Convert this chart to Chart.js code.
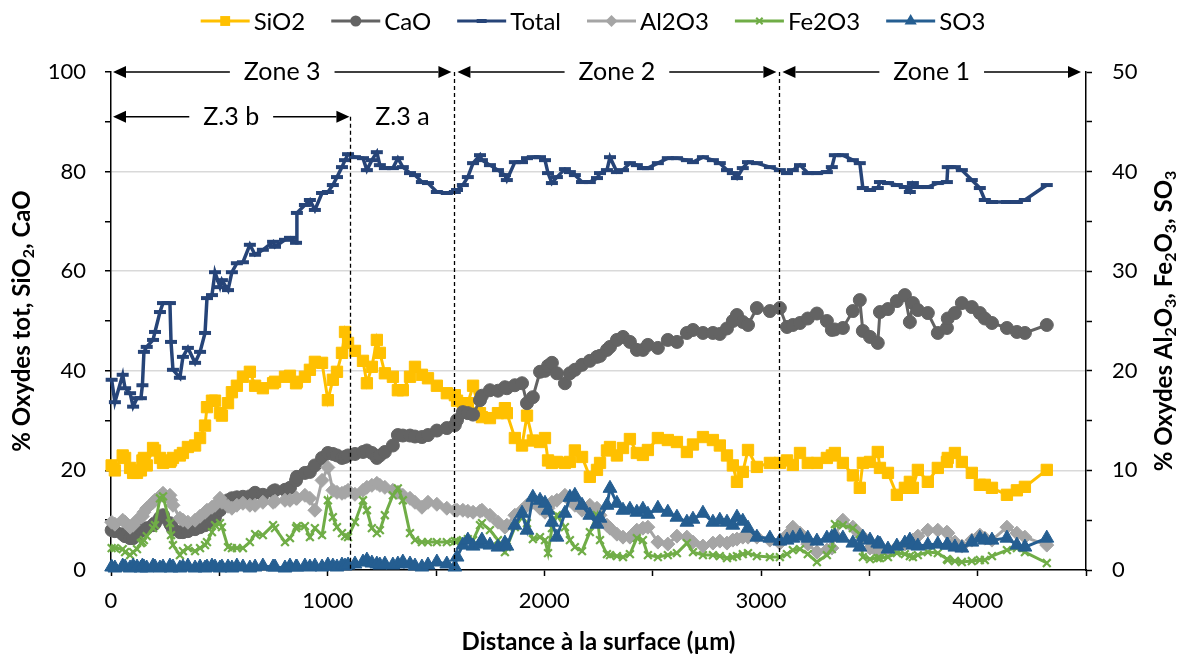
<!DOCTYPE html>
<html>
<head>
<meta charset="utf-8">
<script src="https://cdn.jsdelivr.net/npm/chart.js@4.4.1/dist/chart.umd.min.js"></script>
<style>
  html, body { margin: 0; padding: 0; background: #fff; }
</style>
</head>
<body>
<canvas id="oxChart" width="1186" height="662"></canvas>
<script>
// Distance to surface (µm), shared by all series
const distance = [
  3, 18, 54, 65, 88, 102, 120, 138, 145, 152,
  165, 194, 203, 226, 240, 272, 277, 286, 318, 332,
  355, 388, 411, 434, 443, 466, 480, 503, 512, 540,
  558, 581, 609, 641, 665, 701, 748, 757, 803, 826,
  854, 858, 895, 918, 941, 974, 1001, 1024, 1043, 1066,
  1080, 1094, 1126, 1163, 1181, 1204, 1227, 1241, 1264, 1301,
  1324, 1347, 1380, 1403, 1435, 1463, 1504, 1550, 1587, 1597,
  1624, 1647, 1671, 1703, 1712, 1749, 1786, 1818, 1827, 1864,
  1897, 1920, 1947, 1980, 2003, 2017, 2035, 2058, 2095, 2118,
  2141, 2174, 2210, 2243, 2257, 2289, 2303, 2335, 2363, 2395,
  2427, 2455, 2478, 2524, 2570, 2612, 2658, 2686, 2732, 2778,
  2810, 2843, 2870, 2889, 2916, 2940, 2981, 3041, 3087, 3120,
  3147, 3180, 3216, 3258, 3304, 3327, 3341, 3378, 3424, 3456,
  3470, 3503, 3539, 3549, 3586, 3627, 3664, 3687, 3701, 3724,
  3770, 3816, 3858, 3862, 3895, 3927, 3973, 4010, 4033, 4066,
  4135, 4181, 4218, 4319
];

// left axis (%)
const sio2 = [
  21, 20, 23, 22.5, 20.5, 19.5, 19.5, 20, 22, 22.5,
  21, 24.5, 24, 22.5, 21.5, 21.7, 22, 22.5, 23, 23.5,
  24.7, 25, 26.5, 29, 32.7, 34, 34, 31.5, 31, 33.5,
  35.7, 37, 38.8, 39.8, 37, 36.5, 37.5, 37.8, 38.8, 39,
  37.5, 37.8, 38.8, 40.2, 41.8, 41.6, 34.1, 38.2, 39.8, 43.6,
  47.8, 45.6, 44, 42, 37.5, 40.8, 46.2, 43.6, 39.5, 38.8,
  36.1, 36.1, 38.8, 40.8, 39.2, 38.5, 37, 35.5, 35.1, 34,
  33.5, 33.5, 37, 31.5, 30.7, 30.5, 31.5, 32.5, 31.5, 26.5,
  25, 31, 26, 25.7, 26.5, 22, 21.5, 21.7, 21.5, 21.7,
  24, 22.7, 18.7, 20.1, 21.5, 24, 24.7, 23, 24.5, 26.3,
  23.5, 23.1, 24.1, 26.5, 26.1, 25.7, 23.7, 25.2, 26.7, 26.1,
  25, 23, 21, 17.7, 19.7, 24.1, 20.7, 21.5, 21.5, 22,
  21.1, 23.5, 21.5, 21.5, 22.5, 23, 23.5, 21.5, 19, 16.5,
  21.5, 21.7, 23.7, 20.5, 19.5, 15.1, 16.5, 17.7, 16.5, 20.1,
  17.7, 20.5, 21.7, 22.5, 23.5, 21.7, 19.5, 17.1, 17.1, 16.5,
  15.1, 16, 16.7, 20.1
];
const cao = [
  8, 7.8, 7.2, 6.8, 6.4, 6.4, 7, 8, 8, 8.2,
  8.4, 9, 9.4, 10.5, 11, 9.4, 9, 8.2, 7.6, 7.6,
  7.8, 8.2, 8.6, 9, 9.2, 10, 10.6, 12, 12.8, 14,
  14.4, 14.6, 14.7, 14.8, 15.5, 15.1, 15.8, 16, 16.1, 16.5,
  18, 18.7, 19.5, 19.7, 21, 22.5, 23.5, 23.3, 23, 22.5,
  22.7, 23, 23.3, 23.7, 24, 23.5, 22.5, 23, 23.7, 25,
  27.1, 27, 27, 26.8, 26.7, 27.1, 28, 28.5, 29.1, 30.1,
  31.7, 31.5, 31.2, 34.1, 35, 36.1, 36, 36.7, 36.5, 37.1,
  37.5, 33.5, 34.7, 39.8, 40, 41, 41.6, 39.5, 37.5, 39.5,
  40.2, 41.2, 42, 42.8, 43, 44.2, 44.8, 46.2, 46.8, 45.8,
  44.2, 44.2, 45.2, 44.6, 46.2, 45.8, 47.6, 48.2, 47.6, 47.6,
  47.4, 48.5, 50, 51.2, 49.8, 49.2, 52.6, 52, 52.6, 48.8,
  49.2, 49.6, 50.5, 51.5, 50, 48.2, 48.3, 48.6, 52, 54.2,
  48, 46.8, 45.6, 51.8, 52.4, 54, 55.2, 49.8, 53.6, 52.2,
  51.6, 47.6, 48.6, 50.5, 51.6, 53.6, 52.8, 51.6, 50.5, 49.6,
  48.6, 47.8, 47.6, 49.2
];
const total = [
  38.2, 33.7, 39.2, 36.5, 35.5, 32.8, 34.5, 34.5, 37.1, 43.8,
  44.8, 46.2, 47.8, 51.8, 53.6, 53.6, 45.8, 40.2, 38.6, 42.8,
  44.6, 41.6, 43.8, 47.6, 54.6, 55.2, 59.8, 56.8, 58.2, 56.2,
  59.8, 61.6, 61.8, 65.3, 63.3, 64.3, 65.9, 64.9, 66.3, 66.7,
  65.7, 71.7, 73.3, 74.3, 72.3, 75.7, 75.9, 77.3, 78.9, 80.9,
  82.3, 83.5, 82.9, 82.7, 80.3, 82.3, 83.9, 81.3, 80.7, 80.7,
  82.7, 80.9, 79.7, 79.3, 77.9, 77.7, 75.9, 75.7, 75.9, 76.3,
  77.3, 78.9, 81.7, 83.3, 82.3, 81.3, 80.3, 79.3, 78.3, 81.9,
  81.9, 82.7, 82.9, 82.9, 82.3, 79.7, 77.7, 78.9, 80.5, 79.9,
  79.3, 77.9, 77.9, 78.7, 79.7, 80.3, 82.9, 79.9, 80.3, 81.7,
  81.3, 80.7, 80.7, 81.7, 82.7, 82.7, 82.3, 81.9, 82.9, 82.3,
  81.7, 80.3, 79.7, 78.7, 80.7, 81.9, 81.7, 80.9, 80.3, 79.7,
  80.3, 81.3, 79.7, 79.7, 79.9, 80.9, 83.3, 83.3, 82.3, 81.7,
  76.7, 76.3, 76.7, 77.9, 77.7, 77.3, 76.9, 75.9, 77.7, 76.9,
  76.9, 77.7, 77.9, 80.9, 80.9, 80.3, 78.3, 76.7, 74.3, 73.9,
  73.9, 73.9, 74.3, 77.3
];

// right axis (%)
const al2o3 = [
  4.8, 4.6, 5, 4.8, 4.3, 4.5, 5, 5.3, 5.4, 5.8,
  6.2, 6.8, 7, 7.4, 7.7, 7.5, 7, 6.5, 5.2, 5,
  4.8, 5, 5.4, 5.8, 6, 6.3, 6.5, 7.2, 6.8, 6.4,
  6.2, 6.5, 6.7, 6.5, 6.5, 6.8, 6.8, 6.9, 7, 7,
  7.2, 7.2, 7.5, 7.2, 6, 9, 10.3, 8, 7.8, 7.7,
  7.8, 8, 7.6, 8, 8.3, 8.5, 8.7, 8.5, 8.3, 8,
  7.8, 7.5, 7.2, 6.8, 6.3, 6.8, 6.6, 6.2, 6, 6,
  6, 5.9, 5.8, 5.9, 6, 5.5, 4.8, 4.3, 4.5, 5.5,
  6, 6.5, 6.8, 6.2, 5.8, 6.2, 6.8, 7, 7.5, 7,
  6.5, 6, 6.5, 6.2, 5.5, 4.5, 4.2, 3.6, 3.3, 3.3,
  4, 4.2, 4.3, 2.8, 2.6, 3.4, 3.3, 2.8, 2.4, 2.7,
  2.9, 2.7, 3, 3.1, 3.3, 3.3, 3.3, 3, 2.7, 3.5,
  4.3, 3.7, 2.6, 1.8, 2, 2.2, 3.5, 5, 4.3, 3.6,
  3.3, 2.2, 1.8, 1.8, 2, 2.3, 2.6, 2.9, 3, 3.4,
  4, 4, 3.8, 3.7, 2.8, 2.4, 3, 3.5, 3.2, 3,
  4.3, 3.7, 3.3, 2.5
];
const fe2o3 = [
  2.2, 2.2, 2.1, 1.8, 1.5, 1.8, 2.1, 2.7, 2.8, 3,
  3.4, 4.2, 4.5, 7.2, 7.4, 4.7, 3.5, 2.5, 1.5, 1.9,
  2.2, 1.9, 2.2, 2.5, 2.8, 3.8, 4.5, 4.7, 4.3, 2.3,
  2.2, 2.2, 2.2, 2.8, 3.6, 3.5, 4.5, 4.2, 2.8, 3.2,
  4.2, 4.4, 4.4, 3.3, 4.2, 3.5, 7, 5.3, 4.3, 3.7,
  3.4, 3.3, 4.8, 7, 6, 4.2, 3.7, 4, 5.5, 7.5,
  8.2, 7, 3.7, 3, 2.8, 2.8, 2.8, 2.8, 2.9, 2.9,
  3, 3.1, 3, 4.5, 4.7, 4, 3, 1.8, 2.3, 4.3,
  5.3, 4.7, 3.1, 3.3, 3, 1.7, 4.2, 5.5, 4.3, 3,
  2.3, 1.9, 3.8, 5.5, 3, 1.6, 1.5, 1.4, 1.3, 1.6,
  3.2, 3, 1.5, 1.3, 1.5, 1.7, 2.7, 1.8, 1.5, 1.5,
  1.4, 1.2, 1.3, 1.4, 1.6, 1.7, 1.4, 1.3, 1.3, 1.6,
  2, 2.1, 1.6, 0.8, 1.5, 2.1, 4.6, 4.5, 4.2, 3.6,
  1.3, 1.1, 1.2, 1.2, 1.3, 1.7, 1.6, 1.4, 1.3, 1.5,
  1.8, 1.7, 1.1, 1, 0.9, 0.8, 0.9, 1, 1, 1.4,
  2, 2.2, 1.8, 0.7
];
const so3 = [
  0.3, 0.2, 0.4, 0.3, 0.2, 0.4, 0.3, 0.2, 0.4, 0.3,
  0.2, 0.4, 0.3, 0.2, 0.3, 0.4, 0.2, 0.3, 0.2, 0.3,
  0.4, 0.2, 0.3, 0.2, 0.3, 0.4, 0.3, 0.2, 0.3, 0.3,
  0.2, 0.4, 0.3, 0.2, 0.3, 0.4, 0.3, 0.3, 0.2, 0.4,
  0.3, 0.3, 0.4, 0.3, 0.4, 0.3, 0.5, 0.4, 0.3, 0.5,
  0.4, 0.5, 0.6, 0.8, 1, 0.7, 0.6, 0.5, 0.6, 0.5,
  0.6, 0.8, 0.6, 0.4, 0.3, 0.5, 0.8, 0.6, 0.3, 1.3,
  2.5, 3, 2.4, 2.6, 3, 2.5, 2.3, 2.7, 2.4, 4.5,
  5.7, 4, 7.3, 7, 6.7, 6, 4.8, 3.3, 5.7, 7.3,
  7.5, 6.5, 5.5, 4.6, 5.2, 6.5, 8.2, 6.7, 6, 6.1,
  5.8, 6.1, 5.6, 6.2, 5.8, 5.3, 4.8, 5.1, 5.7, 4.8,
  5, 4.8, 4.5, 5.3, 4.9, 4.2, 3.3, 3.2, 2.9, 3,
  3.2, 3.4, 3.2, 2.9, 3.2, 3.3, 3.4, 3.2, 2.7, 2.3,
  3.3, 3, 2.7, 2.6, 2.1, 2.4, 2.7, 3, 2.5, 2.4,
  2.5, 2.6, 2.5, 2.5, 2.3, 2.2, 2.8, 3.2, 3, 3,
  3.2, 2.5, 2.3, 3.2
];

// zone limits (µm)
const zoneLimits = [1105, 1585, 3085];

const FONT = 'Lato, "Open Sans", sans-serif';

function pts(values) {
  return distance.map((d, i) => ({ x: d, y: values[i] }));
}

const series = [
  { label: 'SiO2',  data: sio2,  color: '#FFC000', style: 'rect',     r: 8,   lw: 3,   axis: 'y',  order: 5 },
  { label: 'CaO',   data: cao,   color: '#636363', style: 'circle',   r: 6.5, lw: 3,   axis: 'y',  order: 4 },
  { label: 'Total', data: total, color: '#264478', style: 'line',     r: 6,   lw: 3.5, axis: 'y',  order: 3 },
  { label: 'Al2O3', data: al2o3, color: '#A5A5A5', style: 'rectRot',  r: 7,   lw: 3,   axis: 'y2', order: 2 },
  { label: 'Fe2O3', data: fe2o3, color: '#70AD47', style: 'crossRot', r: 5.5, lw: 3,   axis: 'y2', order: 1 },
  { label: 'SO3',   data: so3,   color: '#255E91', style: 'triangle', r: 8,   lw: 3,   axis: 'y2', order: 0 }
];

function drawMarker(ctx, style, x, y, r, color) {
  ctx.save();
  ctx.fillStyle = color;
  ctx.strokeStyle = color;
  ctx.beginPath();
  if (style === 'rect') {
    const s = r * Math.SQRT1_2;
    ctx.rect(x - s, y - s, 2 * s, 2 * s);
    ctx.fill();
  } else if (style === 'circle') {
    ctx.arc(x, y, r, 0, Math.PI * 2);
    ctx.fill();
  } else if (style === 'line') {
    ctx.lineWidth = 4;
    ctx.moveTo(x - r, y); ctx.lineTo(x + r, y);
    ctx.stroke();
  } else if (style === 'rectRot') {
    ctx.moveTo(x, y - r); ctx.lineTo(x + r, y); ctx.lineTo(x, y + r); ctx.lineTo(x - r, y);
    ctx.closePath(); ctx.fill();
  } else if (style === 'crossRot') {
    const s = r * Math.SQRT1_2;
    ctx.lineWidth = 2;
    ctx.moveTo(x - s, y - s); ctx.lineTo(x + s, y + s);
    ctx.moveTo(x - s, y + s); ctx.lineTo(x + s, y - s);
    ctx.stroke();
  } else if (style === 'triangle') {
    ctx.moveTo(x, y - r); ctx.lineTo(x + r * 0.87, y + r * 0.5); ctx.lineTo(x - r * 0.87, y + r * 0.5);
    ctx.closePath(); ctx.fill();
  }
  ctx.restore();
}

// text with subscripts, centred on the current origin
function drawRich(ctx, parts, size) {
  const subSize = Math.round(size * 0.65);
  let totalW = 0;
  parts.forEach(p => {
    ctx.font = 'bold ' + (p.sub ? subSize : size) + 'px ' + FONT;
    p.w = ctx.measureText(p.t).width;
    totalW += p.w;
  });
  let x = -totalW / 2;
  parts.forEach(p => {
    ctx.font = 'bold ' + (p.sub ? subSize : size) + 'px ' + FONT;
    ctx.fillText(p.t, x, p.sub ? size * 0.3 : 0);
    x += p.w;
  });
}

function zoneArrow(ctx, x1, x2, y, label) {
  ctx.font = '25px ' + FONT;
  const w = ctx.measureText(label).width;
  const c = (x1 + x2) / 2;
  const gap = 14, head = 13, hw = 6;
  ctx.beginPath();
  ctx.moveTo(x1 + head, y); ctx.lineTo(c - w / 2 - gap, y);
  ctx.moveTo(c + w / 2 + gap, y); ctx.lineTo(x2 - head, y);
  ctx.stroke();
  ctx.beginPath();
  ctx.moveTo(x1, y); ctx.lineTo(x1 + head, y - hw); ctx.lineTo(x1 + head, y + hw); ctx.closePath();
  ctx.moveTo(x2, y); ctx.lineTo(x2 - head, y - hw); ctx.lineTo(x2 - head, y + hw); ctx.closePath();
  ctx.fill();
  ctx.fillText(label, c, y);
}

const decorations = {
  id: 'decorations',
  afterDraw(chart) {
    const ctx = chart.ctx;
    const xs = chart.scales.x, ys = chart.scales.y;
    const area = chart.chartArea;
    ctx.save();

    // zone limits
    ctx.strokeStyle = '#000';
    ctx.lineWidth = 1.3;
    ctx.setLineDash([4, 3]);
    zoneLimits.forEach((v, i) => {
      const x = Math.round(xs.getPixelForValue(v)) + 0.5;
      ctx.beginPath();
      ctx.moveTo(x, i === 0 ? ys.getPixelForValue(91) : ys.getPixelForValue(100));
      ctx.lineTo(x, area.bottom);
      ctx.stroke();
    });
    ctx.setLineDash([]);

    // zone arrows
    ctx.fillStyle = '#000';
    ctx.lineWidth = 1.5;
    ctx.textAlign = 'center';
    ctx.textBaseline = 'middle';
    const yTop = ys.getPixelForValue(100);
    const ySub = ys.getPixelForValue(91);
    const p0 = xs.getPixelForValue(0);
    const pa = xs.getPixelForValue(zoneLimits[0]);
    const p1 = xs.getPixelForValue(zoneLimits[1]);
    const p2 = xs.getPixelForValue(zoneLimits[2]);
    const pEnd = xs.getPixelForValue(4500);
    zoneArrow(ctx, p0 + 2, p1 - 3, yTop, 'Zone 3');
    zoneArrow(ctx, p1 + 3, p2 - 3, yTop, 'Zone 2');
    zoneArrow(ctx, p2 + 3, pEnd - 5, yTop, 'Zone 1');
    zoneArrow(ctx, p0 + 2, pa - 1, ySub, 'Z.3 b');
    ctx.font = '25px ' + FONT;
    ctx.fillText('Z.3 a', (pa + p1) / 2, ySub);

    // y axis titles
    ctx.fillStyle = '#000';
    ctx.textAlign = 'left';
    const midY = (area.top + area.bottom) / 2;
    ctx.save();
    ctx.translate(22, midY);
    ctx.rotate(-Math.PI / 2);
    drawRich(ctx, [{ t: '% Oxydes tot, SiO' }, { t: '2', sub: true }, { t: ', CaO' }], 24);
    ctx.restore();
    ctx.save();
    ctx.translate(1164, midY);
    ctx.rotate(-Math.PI / 2);
    drawRich(ctx, [
      { t: '% Oxydes Al' }, { t: '2', sub: true }, { t: 'O' }, { t: '3', sub: true },
      { t: ', Fe' }, { t: '2', sub: true }, { t: 'O' }, { t: '3', sub: true },
      { t: ', SO' }, { t: '3', sub: true }
    ], 24);
    ctx.restore();

    // legend
    ctx.font = '24px ' + FONT;
    const lineLen = 49, gapText = 4, gapItem = 26;
    let widthAll = 0;
    series.forEach((s, i) => {
      s.textW = ctx.measureText(s.label).width;
      widthAll += lineLen + gapText + s.textW + (i < series.length - 1 ? gapItem : 0);
    });
    let lx = chart.width / 2 - widthAll / 2;
    const ly = 21;
    series.forEach(s => {
      ctx.strokeStyle = s.color;
      ctx.lineWidth = 3;
      ctx.beginPath();
      ctx.moveTo(lx, ly); ctx.lineTo(lx + lineLen, ly);
      ctx.stroke();
      drawMarker(ctx, s.style, lx + lineLen / 2, ly, s.r - 1, s.color);
      ctx.fillStyle = '#000';
      ctx.font = '24px ' + FONT;
      ctx.fillText(s.label, lx + lineLen + gapText, ly + 1);
      lx += lineLen + gapText + s.textW + gapItem;
    });
    ctx.restore();
  }
};

const tickFont = { family: FONT, size: 22 };

new Chart(document.getElementById('oxChart').getContext('2d'), {
  type: 'line',
  data: {
    datasets: series.map(s => ({
      label: s.label,
      data: pts(s.data),
      yAxisID: s.axis,
      order: s.order,
      borderColor: s.color,
      backgroundColor: s.color,
      borderWidth: s.lw,
      pointStyle: s.style,
      pointRadius: s.r,
      pointBorderWidth: s.style === 'line' ? 4 : (s.style === 'crossRot' ? 2.2 : 1),
      pointBorderColor: s.color,
      pointBackgroundColor: s.color,
      tension: 0,
      clip: false
    }))
  },
  options: {
    responsive: false,
    animation: false,
    devicePixelRatio: 1,
    layout: { padding: { top: 72, left: 0, right: 0, bottom: 0 } },
    plugins: {
      legend: { display: false },
      tooltip: { enabled: false }
    },
    scales: {
      x: {
        type: 'linear',
        min: 0,
        max: 4500,
        afterFit: s => { s.height = 92; },
        border: { color: '#000', width: 1.5 },
        grid: { drawOnChartArea: false, tickColor: '#000', tickLength: 6, tickWidth: 1.5 },
        ticks: {
          stepSize: 500,
          autoSkip: false,
          maxRotation: 0,
          padding: 12,
          color: '#000',
          font: tickFont,
          callback: v => (v % 1000 === 0 ? String(v) : '')
        },
        title: {
          display: true,
          text: 'Distance à la surface (µm)',
          color: '#000',
          font: { family: FONT, size: 24, weight: 'bold' },
          padding: { top: 0, bottom: 5 }
        }
      },
      y: {
        position: 'left',
        min: 0,
        max: 100,
        afterFit: s => { s.width = 111; },
        border: { color: '#000', width: 1.5 },
        grid: {
          color: c => (c.tick && c.tick.value % 20 === 0 && c.tick.value > 0 && c.tick.value < 100) ? '#d9d9d9' : 'rgba(0,0,0,0)',
          lineWidth: 1.5,
          tickColor: '#000',
          tickLength: 6,
          tickWidth: 1.5
        },
        ticks: {
          stepSize: 10,
          autoSkip: false,
          padding: 19,
          color: '#000',
          font: tickFont,
          callback: v => (v % 20 === 0 ? String(v) : '')
        }
      },
      y2: {
        position: 'right',
        min: 0,
        max: 50,
        afterFit: s => { s.width = 100; },
        border: { color: '#000', width: 1.5 },
        grid: { drawOnChartArea: false, tickColor: '#000', tickLength: 6, tickWidth: 1.5 },
        ticks: {
          stepSize: 5,
          autoSkip: false,
          padding: 20,
          color: '#000',
          font: tickFont,
          callback: v => (v % 10 === 0 ? String(v) : '')
        }
      }
    }
  },
  plugins: [decorations]
});
</script>
</body>
</html>
